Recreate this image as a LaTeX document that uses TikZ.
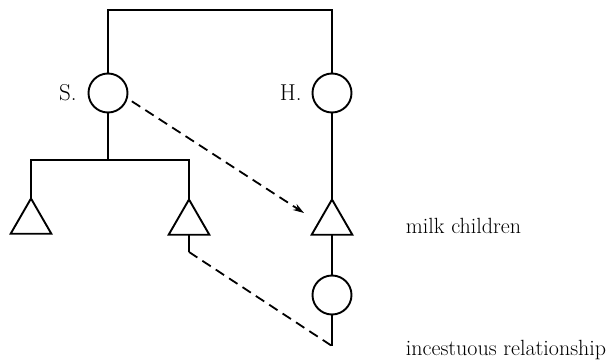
\documentclass[tikz,border=0pt]{standalone}
\usepackage{tikz}
\usetikzlibrary{shapes.geometric, arrows.meta, positioning, calc}

\begin{document}
\begin{tikzpicture}[x=1pt, y=-1pt, line width=1.9pt,
  female/.style={circle, draw, minimum size=39pt, inner sep=0pt, outer sep=0pt},
  male/.style={regular polygon, regular polygon sides=3, draw, minimum size=47pt, inner sep=0pt, outer sep=0pt},
  milk/.style={dash pattern=on 10pt off 6pt, line width=1.8pt},
  lbl/.style={font=\fontsize{23}{27}\selectfont, inner sep=0pt},
  txt/.style={font=\fontsize{22}{26}\selectfont, anchor=base west, inner sep=0pt}]
\useasboundingbox (0,0) rectangle (611,364);

\node[female] (S) at (108,93) {};
\node[female] (H) at (332,93) {};
\node[lbl, left=11pt of S] (Slab) {S.};
\node[lbl, left=10pt of H] (Hlab) {H.};

\node[male] (Ls) at (31,222) {};
\node[male] (Ms) at (189,223) {};
\node[male] (Rs) at (332,223) {};
\node[female] (D) at (332,295) {};

\coordinate (top) at (108,10);
\coordinate (sib) at (108,160);
\coordinate (stub) at (189,252);
\coordinate (inc) at (332,346);
\coordinate (arr) at (304,213);

\draw (S) -- (S |- top) -- (H |- top) -- (H);
\draw (S) -- (sib);
\draw (Ls.corner 1) -- (Ls |- sib) -- (Ms |- sib) -- (Ms.corner 1);
\draw (H) -- (Rs.corner 1);
\draw (Rs.side 2) -- (D);
\draw (D) -- (inc);
\draw (Ms.side 2) -- (stub);
\draw[milk] (stub) -- (inc);
\draw[milk, -{Stealth[length=11pt, width=7pt]}, shorten <=6pt] (S.-15) -- (arr);

\node[txt] (milkc) at (405,233) {milk children};
\node[txt] (incest) at (405,355) {incestuous relationship};
\end{tikzpicture}
\end{document}
